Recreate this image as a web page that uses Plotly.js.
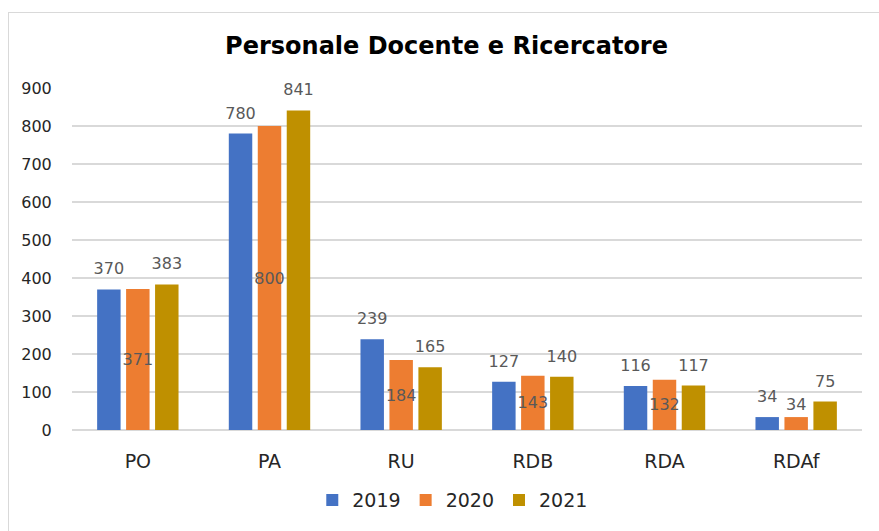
<!DOCTYPE html>
<html><head><meta charset="utf-8">
<script src="https://cdn.plot.ly/plotly-3.0.1.min.js"></script>
<style>
html,body{margin:0;padding:0;background:#fff;overflow:hidden;}
#frame{position:absolute;left:8px;top:12px;width:900px;height:560px;border:1px solid #d9d9d9;pointer-events:none;z-index:5;}
#chart{position:absolute;left:0;top:0;width:879px;height:531px;}
</style>
</head><body>
<div id="chart"></div>
<div id="frame"></div>
<script>
const categories = ['PO','PA','RU','RDB','RDA','RDAf'];
const years = ['2019','2020','2021'];
const v2019 = [370, 780, 239, 127, 116, 34];
const v2020 = [371, 800, 184, 143, 132, 34];
const v2021 = [383, 841, 165, 140, 117, 75];
const colors = ['#4472C4','#ED7D31','#BF9000'];
const yTicks = [0,100,200,300,400,500,600,700,800,900];

const labelFont = {family:'DejaVu Sans, Verdana, sans-serif', size:16, color:'#595959'};
const LABEL_GAP = 21; // data-unit spacer above bar for outside labels

function barTrace(name, vals, color, grp){
  return {type:'bar', name:name, x:categories, y:vals, offsetgroup:grp,
    marker:{color:color}, hoverinfo:'skip'};
}
function labelTrace(vals, grp){
  return {type:'bar', x:categories, y:vals.map(()=>LABEL_GAP), base:vals, offsetgroup:grp,
    marker:{color:'rgba(0,0,0,0)'}, showlegend:false,
    text: vals.map(v=>String(v)), textposition:'outside', textangle:0, constraintext:'none', cliponaxis:false,
    outsidetextfont:labelFont, textfont:labelFont, hoverinfo:'skip'};
}
const t2020 = {type:'bar', name:years[1], x:categories, y:v2020, offsetgroup:'g2',
  marker:{color:colors[1]},
  text: v2020.map(v=>String(v)),
  textposition: v2020.map(v=> v>60 ? 'inside' : 'outside'),
  insidetextanchor:'middle', textangle:0, constraintext:'none', cliponaxis:false,
  insidetextfont:labelFont, outsidetextfont:labelFont, textfont:labelFont, hoverinfo:'skip'};

const data = [
  barTrace(years[0], v2019, colors[0], 'g1'),
  t2020,
  barTrace(years[2], v2021, colors[2], 'g3'),
  labelTrace(v2019, 'g1'),
  labelTrace(v2021, 'g3')
];

const layout = {
  width:879, height:531,
  margin:{l:72, r:17, t:88, b:97},
  paper_bgcolor:'#fff', plot_bgcolor:'#fff',
  font:{family:'DejaVu Sans, Verdana, sans-serif', color:'#262626'},
  title:{text:'<b>Personale Docente e Ricercatore</b>', font:{size:24, color:'#000', family:'DejaVu Sans, Verdana, sans-serif'},
    x:0.508, xref:'container', xanchor:'center', y:0.915, yref:'container', yanchor:'middle'},
  barmode:'group', bargap:0.34, bargroupgap:0.19,
  xaxis:{type:'category', tickfont:{size:19, color:'#262626'}, showgrid:false, zeroline:false, showline:false,
    ticks:'outside', ticklen:14, tickcolor:'rgba(0,0,0,0)'},
  yaxis:{range:[0,900], tickvals:yTicks, ticktext:yTicks.map(String), tickfont:{size:16, color:'#262626'},
    showgrid:true, gridcolor:'#d9d9d9', gridwidth:1.3, zeroline:true, zerolinecolor:'#d9d9d9', zerolinewidth:1.3,
    showline:false, ticks:'outside', ticklen:16, tickcolor:'rgba(0,0,0,0)'},
  showlegend:true,
  legend:{orientation:'h', x:0.482, xanchor:'center', y:-0.205, yanchor:'middle', font:{size:19, color:'#262626'},
    itemwidth:30, traceorder:'normal'}
};
Plotly.newPlot('chart', data, layout, {displayModeBar:false, staticPlot:true});
</script>
</body></html>
